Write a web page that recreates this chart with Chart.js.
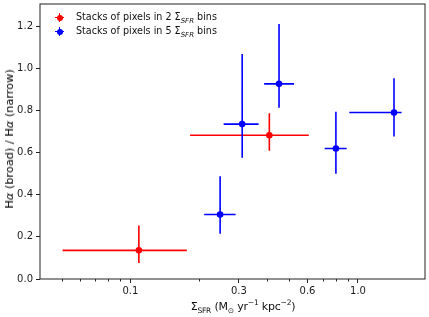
<!DOCTYPE html>
<html>
<head>
<meta charset="utf-8">
<script src="https://cdn.jsdelivr.net/npm/chart.js@4.4.0/dist/chart.umd.min.js"></script>
<style>
  html, body { margin:0; padding:0; background:#fff; }
  #wrap { position:relative; width:429px; height:317px; font-family:"DejaVu Sans", sans-serif; color:#111; }
  #chart { position:absolute; left:0; top:0; }
  .ytitle { position:absolute; left:3px; top:139px; font-size:11.3px; white-space:nowrap;
            writing-mode:vertical-rl; transform:translateY(-50%) rotate(180deg); color:#000; }
  .xtitle { position:absolute; left:243px; top:306px; font-size:11px; white-space:nowrap;
            transform:translate(-50%,-50%); letter-spacing:-0.2px; }
  .xtitle sub, .xtitle sup { font-size:7.5px; line-height:0; }
  .legend sub { font-size:7px; line-height:0; }
  .legend { position:absolute; left:52px; top:10px; font-size:9.6px; }
  .legend .row { height:14px; line-height:14px; white-space:nowrap; position:relative; padding-left:24px; }
  .mk { position:absolute; left:3px; top:3px; width:9px; height:9px; }
  .mk .h { position:absolute; left:0; top:3.75px; width:9px; height:1.5px; }
  .mk .v { position:absolute; left:3.75px; top:0; width:1.5px; height:9px; }
  .mk .d { position:absolute; left:1.5px; top:1.5px; width:6px; height:6px; border-radius:50%; }
</style>
</head>
<body>
<div id="wrap">
  <canvas id="chart" width="429" height="317"></canvas>
  <div class="legend">
    <div class="row"><span class="mk"><span class="h" style="background:#ff0000"></span><span class="v" style="background:#ff0000"></span><span class="d" style="background:#ff0000"></span></span>Stacks of pixels in 2 &Sigma;<sub><i>SFR</i></sub> bins</div>
    <div class="row"><span class="mk"><span class="h" style="background:#0000ff"></span><span class="v" style="background:#0000ff"></span><span class="d" style="background:#0000ff"></span></span>Stacks of pixels in 5 &Sigma;<sub><i>SFR</i></sub> bins</div>
  </div>
  <div class="ytitle">H<i>α</i> (broad) / H<i>α</i> (narrow)</div>
  <div class="xtitle">&Sigma;<sub>SFR</sub> (M<sub>⊙</sub> yr<sup>−1</sup> kpc<sup>−2</sup>)</div>
</div>
<script>
// red: 2 bins
var redX   = [0.109, 0.408];
var redY   = [0.136, 0.682];
var redXlo = [0.0504, 0.183];
var redXhi = [0.177, 0.608];
var redYlo = [0.076, 0.609];
var redYhi = [0.254, 0.787];

// blue: 5 bins
var blueX   = [0.248, 0.310, 0.450, 0.800, 1.44];
var blueY   = [0.306, 0.735, 0.926, 0.619, 0.790];
var blueXlo = [0.211, 0.257, 0.387, 0.714, 0.916];
var blueXhi = [0.290, 0.366, 0.524, 0.892, 1.554];
var blueYlo = [0.215, 0.575, 0.813, 0.499, 0.676];
var blueYhi = [0.488, 1.068, 1.210, 0.794, 0.953];

var xMajorTicks = [0.1, 0.3, 0.6, 1.0];
var xMinorTicks = [0.04, 0.05, 0.06, 0.07, 0.08, 0.09, 0.2, 0.4, 0.5, 0.7, 0.8, 0.9];
var yTicks = [0, 0.2, 0.4, 0.6, 0.8, 1.0, 1.2];

var RED = '#ff0000';
var BLUE = '#0000ff';
var INK = '#222';

// error bars as line segments, split with null points
function errSegments(x, y, xlo, xhi, ylo, yhi){
  let pts = [];
  for(let i=0; i<x.length; i++){
    pts.push({x:xlo[i], y:y[i]}, {x:xhi[i], y:y[i]}, {x:x[i], y:null});
    pts.push({x:x[i], y:ylo[i]}, {x:x[i], y:yhi[i]}, {x:x[i], y:null});
  }
  return pts;
}
function pts(x, y){ return x.map((v,i)=>({x:v, y:y[i]})); }

// box round the plot + minor ticks on x
const frame = {
  id: 'frame',
  afterDraw(chart){
    const c = chart.ctx, a = chart.chartArea, sx = chart.scales.x;
    c.save();
    c.strokeStyle = INK;
    c.lineWidth = 1;
    c.strokeRect(a.left, a.top, a.right - a.left, a.bottom - a.top);
    c.beginPath();
    xMinorTicks.forEach(v=>{
      let px = Math.round(sx.getPixelForValue(v)) + 0.5;
      if(px > a.left + 1 && px < a.right - 1){
        c.moveTo(px, a.bottom);
        c.lineTo(px, a.bottom + 2.5);
      }
    });
    c.stroke();
    c.restore();
  }
};

new Chart(document.getElementById('chart'), {
  type: 'scatter',
  data: {
    datasets: [
      { data: pts(blueX, blueY), backgroundColor: BLUE, borderWidth: 0, pointRadius: 3.3, order: 0 },
      { data: errSegments(blueX, blueY, blueXlo, blueXhi, blueYlo, blueYhi), showLine: true, spanGaps: false,
        borderColor: BLUE, borderWidth: 1.6, pointRadius: 0, order: 1 },
      { data: pts(redX, redY), backgroundColor: RED, borderWidth: 0, pointRadius: 3.3, order: 2 },
      { data: errSegments(redX, redY, redXlo, redXhi, redYlo, redYhi), showLine: true, spanGaps: false,
        borderColor: RED, borderWidth: 1.6, pointRadius: 0, order: 3 }
    ]
  },
  options: {
    animation: false,
    responsive: false,
    layout: { padding: { top: 4, right: 4, left: 0, bottom: 0 } },
    plugins: { legend: { display: false }, tooltip: { enabled: false } },
    scales: {
      x: {
        type: 'logarithmic',
        min: 0.0401, max: 1.97,
        afterBuildTicks: s => { s.ticks = xMajorTicks.map(v=>({value:v})); },
        afterFit: s => { s.height = 38; s.paddingLeft = 0; s.paddingRight = 0; },
        border: { display: false },
        grid: { drawOnChartArea: false, tickLength: 4, color: INK },
        ticks: {
          padding: 2, color: '#1a1a1a', maxRotation: 0, autoSkip: false,
          font: { family: 'DejaVu Sans', size: 10 },
          callback: v => (v === 1 ? '1.0' : String(v))
        }
      },
      y: {
        min: 0, max: 1.305,
        afterBuildTicks: s => { s.ticks = yTicks.map(v=>({value:v})); },
        afterFit: s => { s.width = 40; s.paddingTop = 0; s.paddingBottom = 0; },
        border: { display: false },
        grid: { drawOnChartArea: false, tickLength: 4, color: INK },
        ticks: {
          padding: 3, color: '#1a1a1a',
          font: { family: 'DejaVu Sans', size: 10 },
          callback: v => v.toFixed(1)
        }
      }
    }
  },
  plugins: [frame]
});
</script>
</body>
</html>
